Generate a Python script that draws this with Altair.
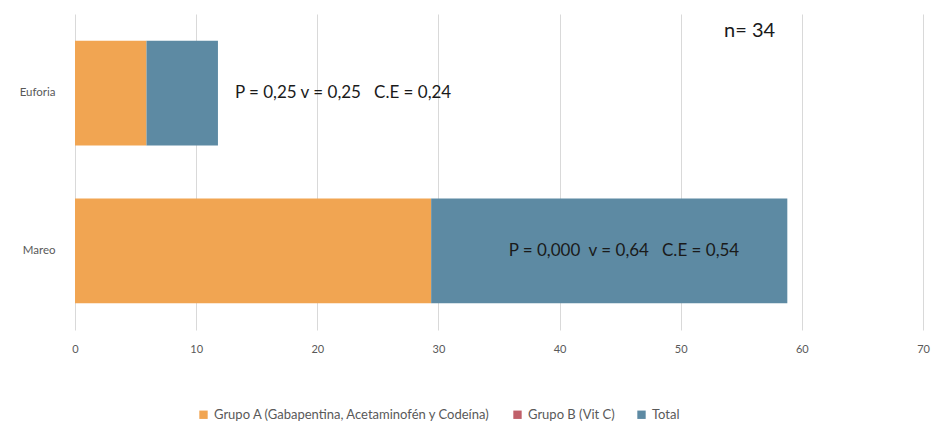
import altair as alt
import pandas as pd

# Porcentaje de pacientes con cada efecto adverso
categories = ["Euforia", "Mareo"]
series_names = ["Grupo A (Gabapentina, Acetaminofén y Codeína)", "Grupo B (Vit C)", "Total"]
grupo_a = [5.9, 29.4]
grupo_b = [0.0, 0.0]
total = [5.9, 29.4]
series_colors = ["#F1A552", "#C0606A", "#5D8AA3"]

NB = "\u00a0"
stats_labels = [
    f"P = 0,25 v = 0,25{NB*3}C.E = 0,24",
    f"P = 0,000{NB*2}v = 0,64{NB*3}C.E = 0,54",
]
stats_x = [13.2, 35.8]
sample_note = "n= 34"

FONT = "Lato"

rows = []
for i, cat in enumerate(categories):
    for k, (name, vals) in enumerate(zip(series_names, [grupo_a, grupo_b, total])):
        rows.append({"categoria": cat, "serie": name, "valor": vals[i], "orden": k})
df = pd.DataFrame(rows)

ann = pd.DataFrame({"categoria": categories, "texto": stats_labels, "x": stats_x})

x_axis = alt.Axis(
    values=[0, 10, 20, 30, 40, 50, 60, 70],
    labelFont=FONT, labelFontSize=11, labelColor="#595959",
    ticks=False, domain=False, gridColor="#D9D9D9", gridWidth=1,
    labelPadding=13, labelFlush=False,
)
x_scale = alt.Scale(domain=[0, 70], nice=False)
y_axis = alt.Axis(
    labelFont=FONT, labelFontSize=11.5, labelColor="#595959",
    ticks=False, domain=False, grid=False, labelPadding=20,
)
y_scale = alt.Scale(paddingInner=0.335, paddingOuter=0.17)

bars = alt.Chart(df).mark_bar().encode(
    x=alt.X("valor:Q", stack="zero", title=None, scale=x_scale, axis=x_axis),
    y=alt.Y("categoria:N", sort=categories, title=None, scale=y_scale, axis=y_axis),
    color=alt.Color(
        "serie:N",
        scale=alt.Scale(domain=series_names, range=series_colors),
        legend=alt.Legend(
            title=None, orient="none", direction="horizontal",
            legendX=122, legendY=394,
            symbolType="square", symbolSize=70, symbolStrokeWidth=0,
            labelFont=FONT, labelFontSize=13, labelColor="#595959",
            labelLimit=450, columnPadding=20,
        ),
    ),
    order=alt.Order("orden:Q"),
)

stats = alt.Chart(ann).mark_text(
    align="left", baseline="middle", font=FONT, fontSize=17, color="#1A1A1A"
).encode(
    x=alt.X("x:Q", title=None, scale=x_scale, axis=x_axis),
    y=alt.Y("categoria:N", sort=categories, title=None, scale=y_scale, axis=y_axis),
    text="texto:N",
)

note = alt.Chart(pd.DataFrame({"t": [sample_note]})).mark_text(
    align="left", baseline="middle", font=FONT, fontSize=20, color="#1A1A1A"
).encode(
    x=alt.value(649),
    y=alt.value(17),
    text="t:N",
)

chart = (
    alt.layer(bars, stats, note)
    .properties(
        width=848,
        height=316,
        background="white",
        autosize=alt.AutoSizeParams(type="none"),
        padding={"left": 75, "top": 14, "right": 12, "bottom": 94},
    )
    .configure_view(stroke=None)
)

chart.save("out.html", embed_options={"renderer": "svg", "actions": False})
